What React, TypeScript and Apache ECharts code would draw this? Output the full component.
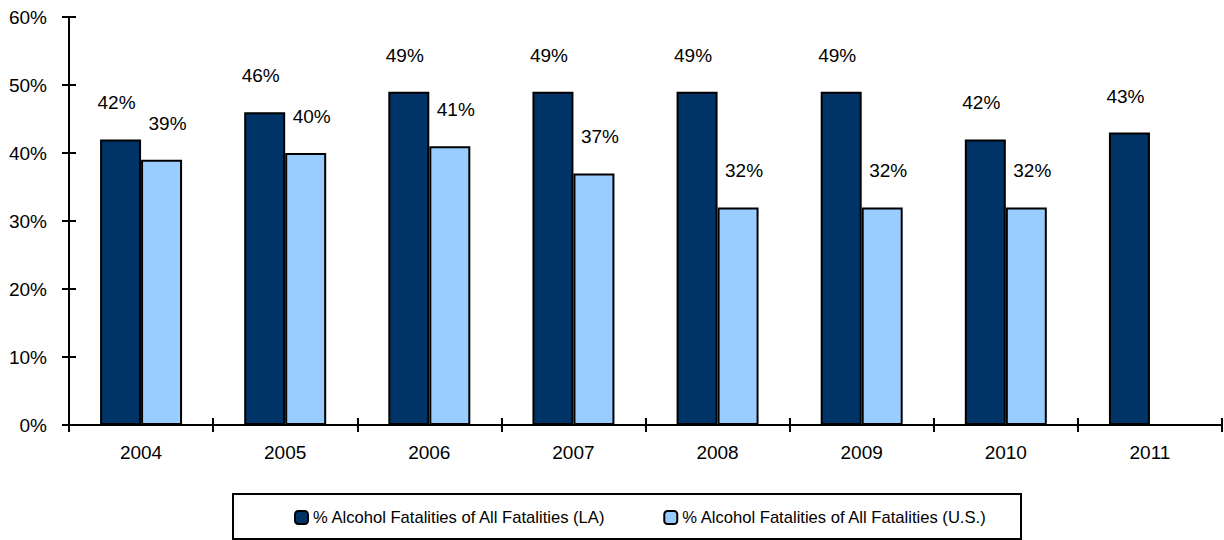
import React, { useEffect, useRef } from "react";
import * as echarts from "echarts";

const categories = ["2004", "2005", "2006", "2007", "2008", "2009", "2010", "2011"];
const laValues: (number | null)[] = [42, 46, 49, 49, 49, 49, 42, 43];
const usValues: (number | null)[] = [39, 40, 41, 37, 32, 32, 32, null];
const seriesNames = [
  "% Alcohol Fatalities of All Fatalities (LA)",
  "% Alcohol Fatalities of All Fatalities (U.S.)",
];
const yMin = 0;
const yMax = 60;
const yInterval = 10;

const FONT = "'Liberation Sans', Arial, sans-serif";

export default function App() {
  const ref = useRef<HTMLDivElement>(null);
  useEffect(() => {
    document.body.style.margin = "0";
    const chart = echarts.init(ref.current!, null, { renderer: "svg" });
    const labelStyle = {
      show: true,
      position: "top" as const,
      distance: 27,
      fontSize: 19,
      color: "#000",
      fontFamily: FONT,
      formatter: (p: any) => `${p.value}%`,
    };
    const yBase = {
      type: "value" as const,
      min: yMin,
      max: yMax,
      interval: yInterval,
      splitLine: { show: false },
      axisLine: { show: true, lineStyle: { color: "#000", width: 2 } },
    };
    const xBase = {
      type: "category" as const,
      data: categories,
      boundaryGap: true,
      axisLine: { show: true, lineStyle: { color: "#000", width: 2 } },
      splitLine: { show: false },
    };
    chart.setOption({
      animation: false,
      textStyle: { fontFamily: FONT },
      grid: { left: 69, right: 2, top: 17, bottom: 115, containLabel: false },
      xAxis: [
        {
          ...xBase,
          axisTick: { show: true, inside: false, length: 7, interval: 0, lineStyle: { color: "#000", width: 2 } },
          axisLabel: { show: true, margin: 18, fontSize: 19, color: "#000", fontFamily: FONT, interval: 0 },
        },
        {
          ...xBase,
          position: "bottom",
          axisTick: { show: true, inside: true, length: 7, interval: 0, lineStyle: { color: "#000", width: 2 } },
          axisLabel: { show: false },
        },
      ],
      yAxis: [
        {
          ...yBase,
          axisTick: { show: true, inside: false, length: 7, lineStyle: { color: "#000", width: 2 } },
          axisLabel: {
            show: true,
            margin: 22,
            fontSize: 19,
            color: "#000",
            fontFamily: FONT,
            formatter: (v: number) => `${v}%`,
          },
        },
        {
          ...yBase,
          position: "left",
          axisTick: { show: true, inside: true, length: 7, lineStyle: { color: "#000", width: 2 } },
          axisLabel: { show: false },
        },
      ],
      legend: {
        left: 294,
        top: 509,
        itemWidth: 13,
        itemHeight: 13,
        itemGap: 57,
        padding: 0,
        textStyle: { fontSize: 16.6, color: "#000", fontFamily: FONT },
        data: seriesNames,
      },
      graphic: [
        {
          type: "rect",
          shape: { x: 233, y: 494, width: 788, height: 45 },
          style: { fill: "none", stroke: "#000", lineWidth: 2 },
          silent: true,
        },
      ],
      series: [
        {
          name: seriesNames[0],
          type: "bar",
          data: laValues,
          barWidth: 41,
          barGap: "0%",
          itemStyle: { color: "#003366", borderColor: "#000", borderWidth: 2 },
          label: { ...labelStyle, offset: [-4, 0] },
        },
        {
          name: seriesNames[1],
          type: "bar",
          data: usValues,
          barWidth: 41,
          barGap: "0%",
          itemStyle: { color: "#99CCFF", borderColor: "#000", borderWidth: 2 },
          label: { ...labelStyle, offset: [6, 0] },
        },
      ],
    });
    return () => chart.dispose();
  }, []);
  return (
    <div
      ref={ref}
      style={{ width: 1224, height: 540, position: "absolute", left: 0, top: 0 }}
    />
  );
}
